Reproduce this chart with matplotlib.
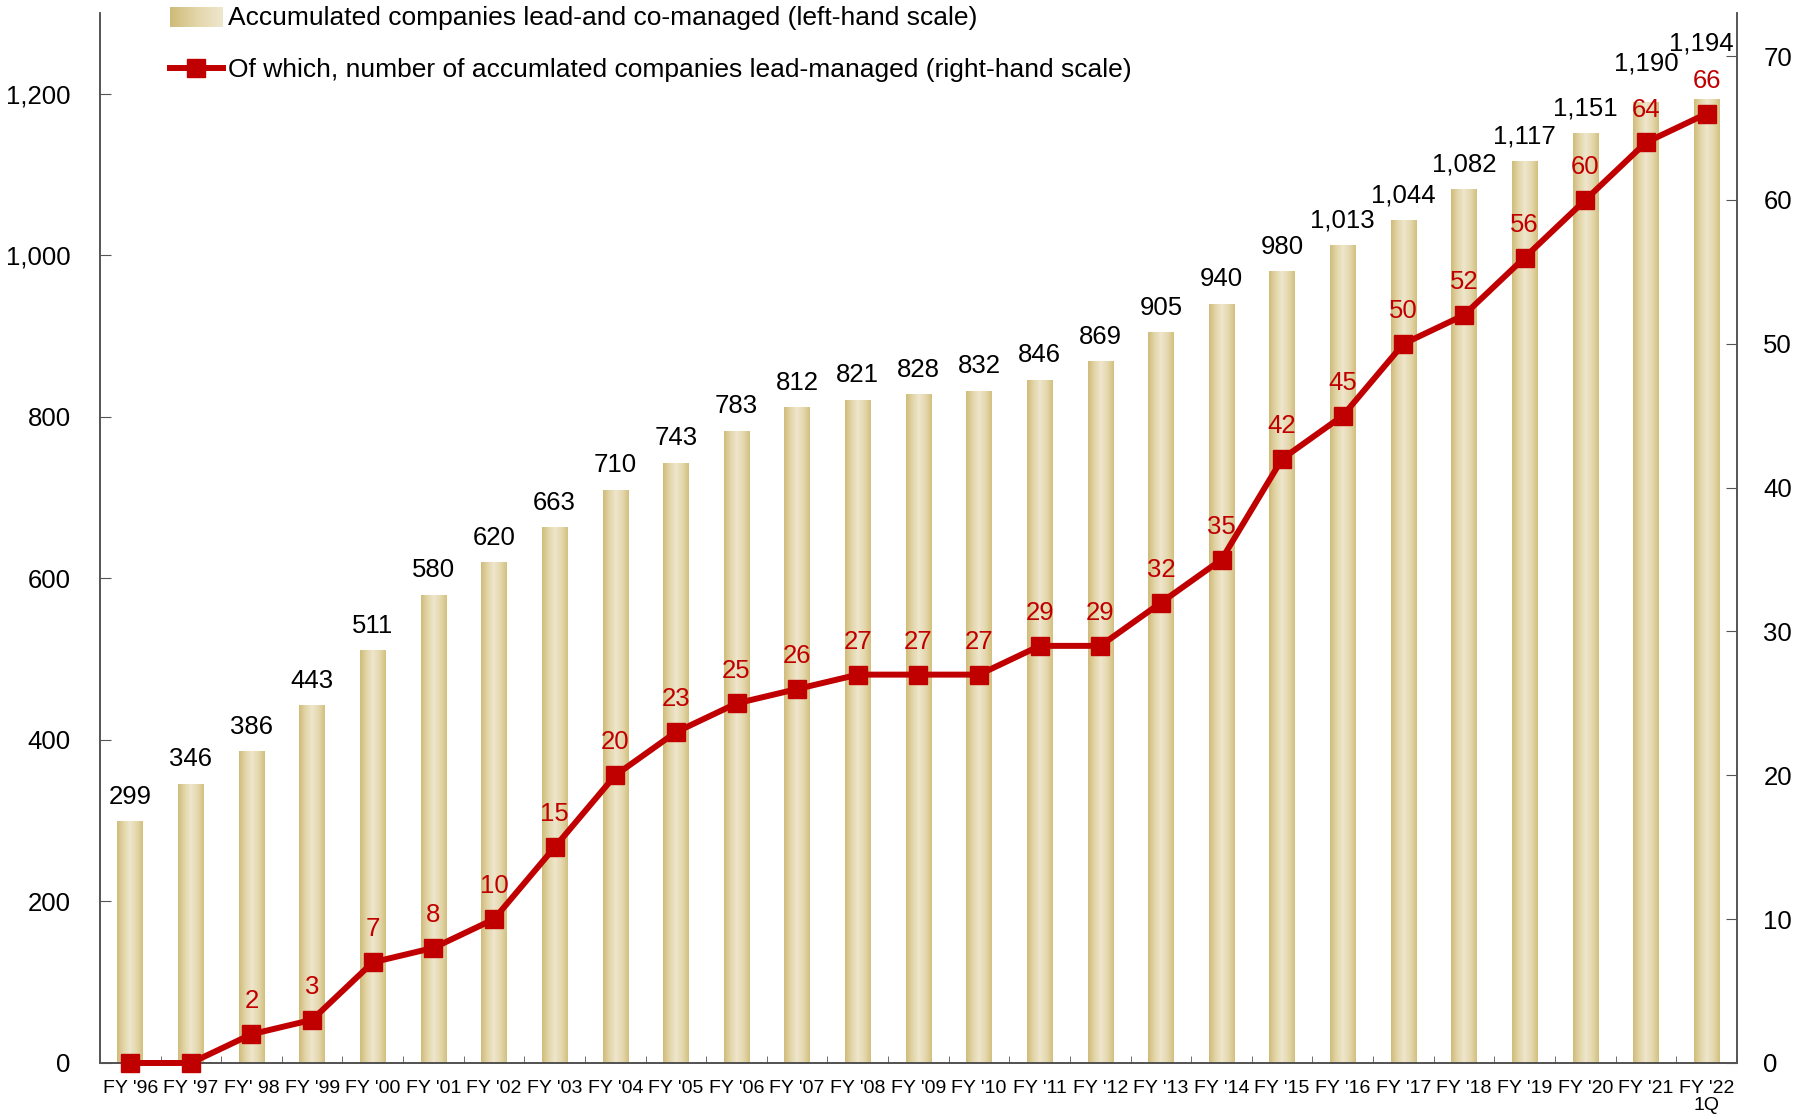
import numpy as np
import matplotlib
matplotlib.use("Agg")
import matplotlib.pyplot as plt
from matplotlib import font_manager
from matplotlib.legend_handler import HandlerBase
from matplotlib.patches import Rectangle
from matplotlib.lines import Line2D
from matplotlib.colors import LinearSegmentedColormap

categories = ["FY '96", "FY '97", "FY' 98", "FY '99", "FY '00", "FY '01", "FY '02",
              "FY '03", "FY '04", "FY '05", "FY '06", "FY '07", "FY '08", "FY '09",
              "FY '10", "FY '11", "FY '12", "FY '13", "FY '14", "FY '15", "FY '16",
              "FY '17", "FY '18", "FY '19", "FY '20", "FY '21", "FY '22\n1Q"]
co_managed = [299, 346, 386, 443, 511, 580, 620, 663, 710, 743, 783, 812, 821, 828,
              832, 846, 869, 905, 940, 980, 1013, 1044, 1082, 1117, 1151, 1190, 1194]
lead_managed = [0, 0, 2, 3, 7, 8, 10, 15, 20, 23, 25, 26, 27, 27, 27, 29, 29, 32, 35,
                42, 45, 50, 52, 56, 60, 64, 66]
left_ticks = [0, 200, 400, 600, 800, 1000, 1200]
right_ticks = [0, 10, 20, 30, 40, 50, 60, 70]
legend_labels = ["Accumulated companies lead-and co-managed (left-hand scale)",
                 "Of which, number of accumlated companies lead-managed (right-hand scale)"]

names = {f.name for f in font_manager.fontManager.ttflist}
base_font = "Liberation Sans" if "Liberation Sans" in names else "DejaVu Sans"
plt.rcParams["font.family"] = [base_font, "DejaVu Sans"]

RED = "#c00000"
grad_cmap = LinearSegmentedColormap.from_list(
    "gold", ["#cfbb78", "#e2d5a8", "#eee6cc", "#e4d8ae", "#d3c07f"])

fig = plt.figure(figsize=(18.1, 11.2), dpi=100)
ax = fig.add_axes([0.0552, 0.0509, 0.9044, 0.9375])
ax2 = ax.twinx()

x = np.arange(len(categories))
bars = ax.bar(x, co_managed, width=0.42, color="none", edgecolor="none", zorder=2)
grad = np.linspace(0, 1, 256).reshape(1, -1)
for b in bars:
    x0, y0 = b.get_x(), b.get_y()
    w, h = b.get_width(), b.get_height()
    im = ax.imshow(grad, cmap=grad_cmap, aspect="auto",
                   extent=(x0, x0 + w, y0, y0 + h), zorder=2, interpolation="bilinear")
    im.set_clip_path(b)

ax.set_xlim(-0.5, len(categories) - 0.5)
ax.set_ylim(0, 1300)
ax2.set_ylim(0, 73)

LABEL_FS = 18.5

# bar value labels
for i, v in enumerate(co_managed):
    dx, dy = 0, 9
    if i == len(co_managed) - 2:
        dy = 19
    if i == len(co_managed) - 1:
        dx, dy = -4, 31
    ax.annotate(f"{v:,}", (x[i], v), xytext=(dx, dy), textcoords="offset points",
                ha="center", va="bottom", fontsize=LABEL_FS, color="black", zorder=5)

ax2.plot(x, lead_managed, color=RED, lw=4.3, marker="s", markersize=12.5,
         markeredgecolor=RED, markerfacecolor=RED, zorder=4, clip_on=False)
for i, v in enumerate(lead_managed):
    if v == 0:
        continue
    ax2.annotate(f"{v}", (x[i], v), xytext=(0, 15), textcoords="offset points",
                 ha="center", va="bottom", fontsize=LABEL_FS, color=RED, zorder=5)

# ticks
ax.set_yticks(left_ticks)
ax.set_yticklabels([f"{t:,}" for t in left_ticks])
ax2.set_yticks(right_ticks)
ax.set_xticks(x)
ax.set_xticklabels(categories, fontsize=14, linespacing=1.0)
ax.set_xticks(np.arange(len(categories) + 1) - 0.5, minor=True)
ax.tick_params(axis="x", which="major", length=0, pad=12)
ax.tick_params(axis="x", which="minor", direction="in", length=5, color="#555555")
ax.tick_params(axis="y", direction="in", length=8, pad=21, labelsize=18.5, color="#555555")
ax2.tick_params(axis="y", direction="in", length=8, pad=19, labelsize=18.5, color="#555555")

for a in (ax, ax2):
    a.spines["top"].set_visible(False)
    for s in ("left", "right", "bottom"):
        a.spines[s].set_color("#555555")
        a.spines[s].set_linewidth(1.2)
ax.spines["bottom"].set_color("#333333")


class GradientHandler(HandlerBase):
    def create_artists(self, legend, orig_handle, xdescent, ydescent, width, height,
                       fontsize, trans):
        arts = []
        n = 30
        for k in range(n):
            c = grad_cmap(0.5 * k / (n - 1))
            r = Rectangle((width * k / n, -0.1 * height),
                          width / n + 0.5, height * 1.1, facecolor=c, edgecolor="none",
                          transform=trans)
            arts.append(r)
        return arts


patch_handle = Rectangle((0, 0), 1, 1)
line_handle = Line2D([], [], color=RED, lw=4.3, marker="s", markersize=12.5)
ax.legend([patch_handle, line_handle], legend_labels,
          handler_map={Rectangle: GradientHandler()},
          loc="upper left", bbox_to_anchor=(0.0428, 1.0065), frameon=False,
          fontsize=19, handlelength=2.0, handletextpad=0.2, labelspacing=1.07,
          borderpad=0, borderaxespad=0)

fig.savefig("out.png", dpi=100)
